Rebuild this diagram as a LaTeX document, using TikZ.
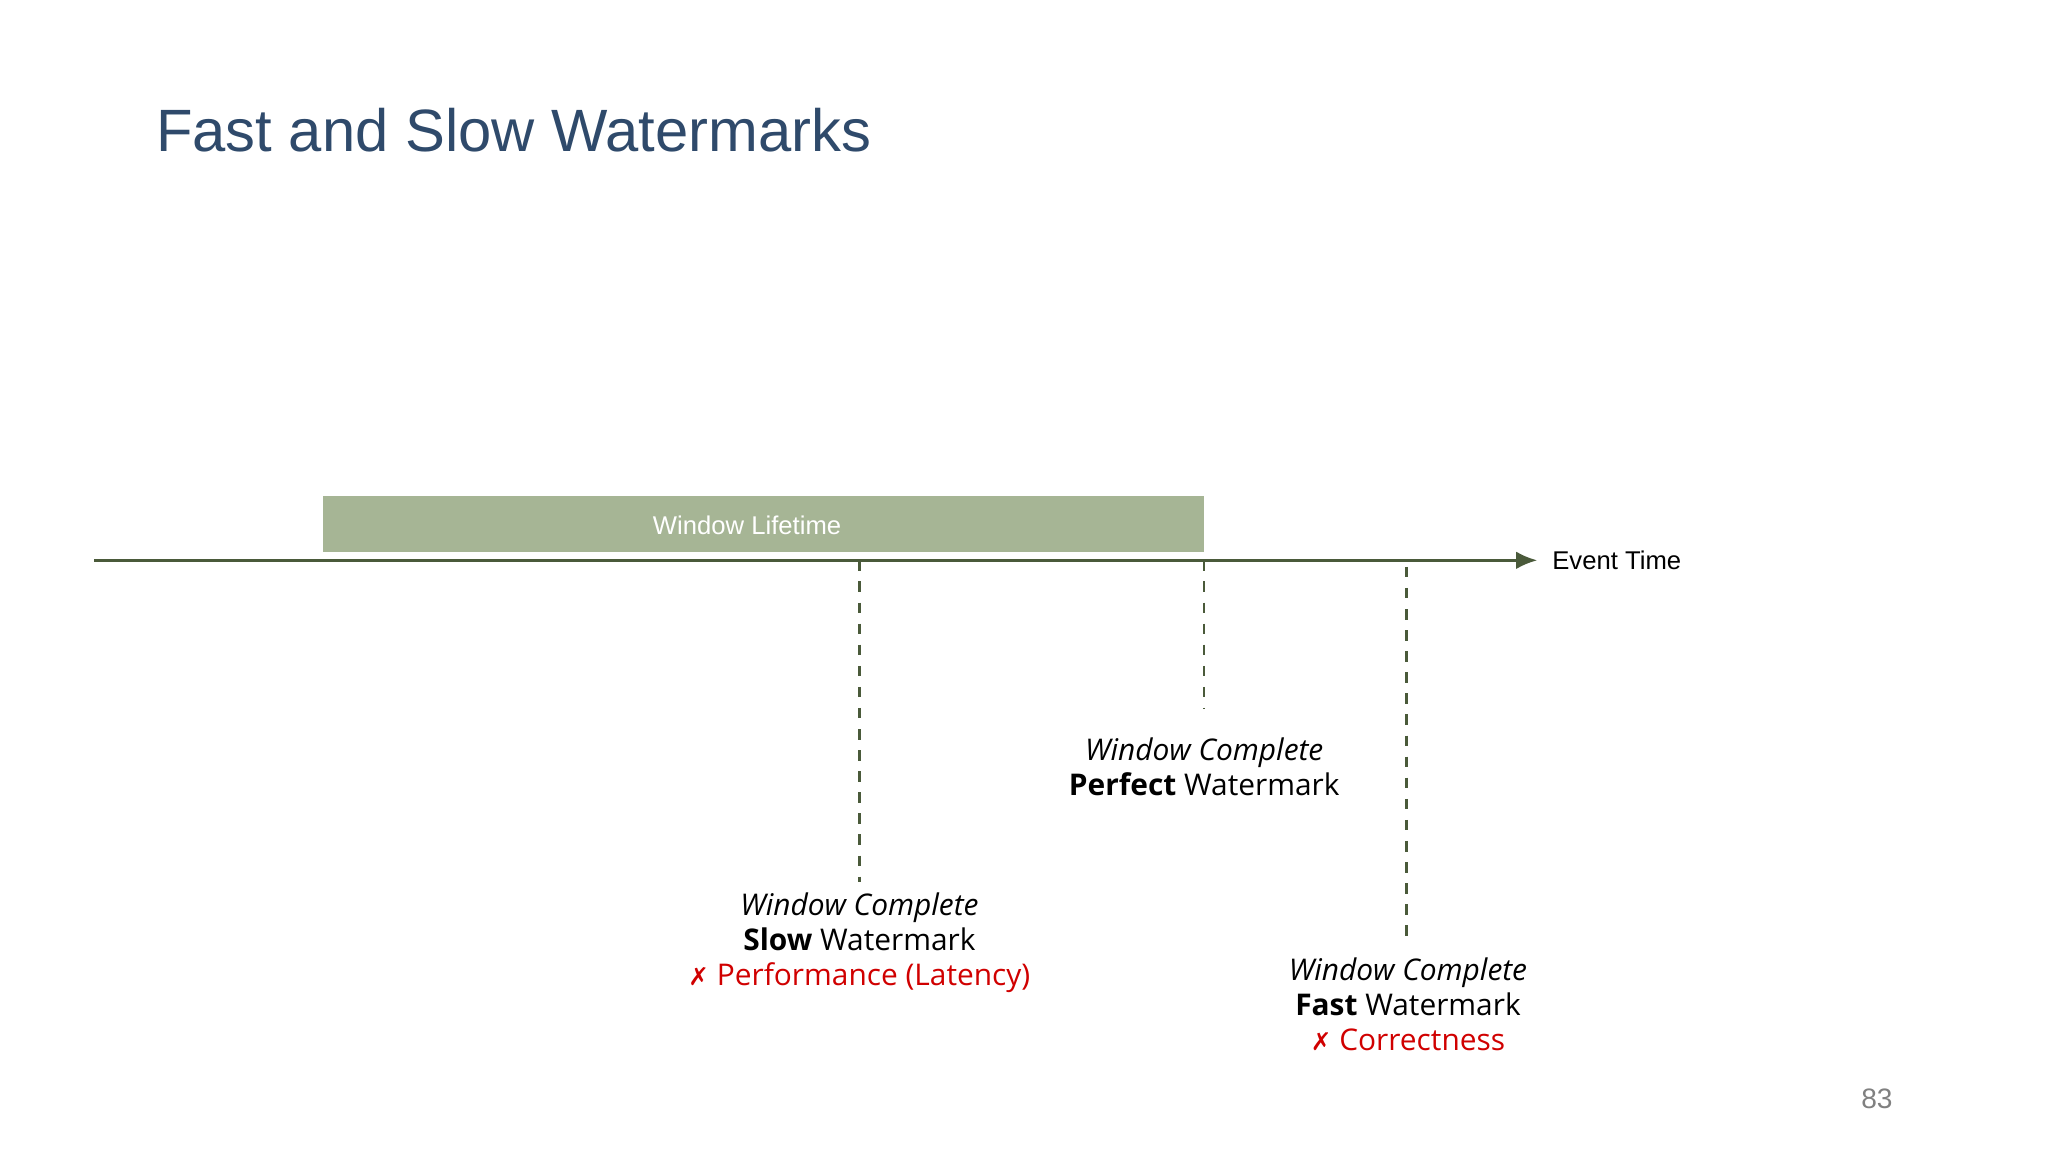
\documentclass[tikz,border=0pt]{standalone}
\usepackage{fontspec}
\setmainfont{Liberation Sans}
\newfontfamily\bodyf{Open Sans}
\newfontfamily\symf{DejaVu Sans}
\usetikzlibrary{arrows.meta}
\definecolor{titleblue}{HTML}{2F4A6B}
\definecolor{winfill}{HTML}{A6B595}
\definecolor{axiscol}{HTML}{4A5A3A}
\definecolor{redx}{HTML}{D00000}
\begin{document}
\begin{tikzpicture}[x=0.01306cm,y=-0.01306cm,
  lbl/.style={align=center,font=\bodyf\fontsize{8.5}{10}\selectfont,inner sep=0pt},
  vdash/.style={draw=axiscol,dashed,line width=0.7pt}]
\useasboundingbox (0,0) rectangle (1568,882);
\node[anchor=west,text=titleblue,font=\fontsize{17}{20}\selectfont,inner sep=0pt] (title) at (119,100) {Fast and Slow Watermarks};
\node[fill=winfill,minimum width=675*0.01306cm,minimum height=43*0.01306cm,inner sep=0pt] (win) at (584.5,401.5) {};
\node[text=white,font=\fontsize{7.3}{9}\selectfont,inner sep=0pt] (wl) at (572,402) {Window Lifetime};
\coordinate (a0) at (72,429);
\coordinate (a1) at (1177,429);
\draw[axiscol,line width=0.8pt,-{Latex[length=6pt,width=5pt]}] (a0) -- (a1);
\node[anchor=west,font=\fontsize{7.3}{9}\selectfont,inner sep=0pt] (et) at (1188,429) {Event Time};
\node[lbl] (b1) at (658,722) {\itshape Window Complete\\\textbf{Slow} Watermark\\\textcolor{redx}{{\symf\fontsize{7}{10}\selectfont ✗} Performance (Latency)}};
\node[lbl] (b2) at (922,587) {\itshape Window Complete\\\textbf{Perfect} Watermark};
\node[lbl] (b3) at (1078,769) {\itshape Window Complete\\\textbf{Fast} Watermark\\\textcolor{redx}{{\symf\fontsize{7}{10}\selectfont ✗} Correctness}};
\coordinate (d1) at (658,429); \coordinate (e1) at (658,675);
\coordinate (d2) at (922,429); \coordinate (e2) at (922,543);
\coordinate (d3) at (1077,434); \coordinate (e3) at (1077,722);
\draw[vdash] (d1) -- (e1);
\draw[vdash] (d2) -- (e2);
\draw[vdash] (d3) -- (e3);
\node[text=gray,font=\fontsize{8}{10}\selectfont,inner sep=0pt] (pg) at (1437,841) {83};
\end{tikzpicture}
\end{document}
